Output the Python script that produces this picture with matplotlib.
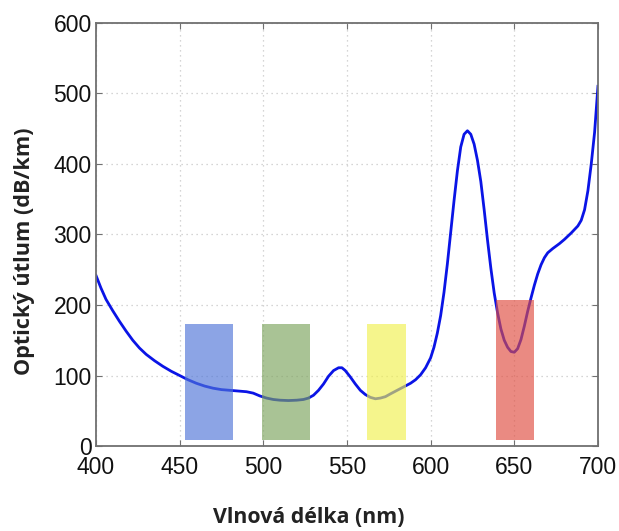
import matplotlib
matplotlib.use("Agg")
import matplotlib.pyplot as plt
from matplotlib.patches import Rectangle

# attenuation of PMMA fibre vs. wavelength
wavelength = [400, 403, 406, 410, 414, 418, 422, 426, 430, 435, 440, 445,
              450, 455, 460, 465, 470, 475, 480, 485, 490, 494, 498, 502,
              506, 510, 515, 520, 524, 527, 530, 533, 536, 539, 542, 545,
              547, 549, 552, 555, 558, 561, 564, 567, 570, 573, 576, 580,
              584, 588, 591, 594, 597, 600, 602, 604, 606, 608, 610, 612,
              614, 616, 618, 620, 622, 624, 626, 628, 630, 632, 634, 636,
              638, 640, 642, 644, 646, 648, 650, 652, 654, 656, 658, 660,
              662, 664, 666, 668, 670, 673, 677, 680, 684, 688, 690, 692,
              694, 696, 698, 700]
attenuation = [242, 224, 208, 192, 177, 163, 150, 139, 130, 121, 113, 106,
               100, 94, 89, 85, 82, 80, 79, 78, 77, 75, 71, 68,
               66, 65, 64.5, 65, 66, 68, 72, 79, 88, 99, 107, 111,
               111, 107, 98, 88, 79, 73, 69, 67, 68, 70, 74, 79,
               84, 89, 94, 101, 111, 125, 140, 160, 185, 218, 258, 303,
               348, 390, 424, 442, 447, 442, 428, 405, 375, 335, 292, 252,
               217, 189, 166, 150, 140, 134, 133, 138, 151, 170, 191, 210,
               228, 244, 257, 267, 274, 280, 287, 293, 302, 312, 320, 335,
               362, 400, 445, 510]

# LED emission bands: start, end, height
band_start = [453, 499, 562, 639]
band_end = [482, 528, 585, 662]
band_top = [173, 173, 173, 207]
band_bottom = 8
band_colors = ["#4e74d8", "#7ca35d", "#f0f04e", "#e04c3f"]

xticks = [400, 450, 500, 550, 600, 650, 700]
yticks = [0, 100, 200, 300, 400, 500, 600]

fig = plt.figure(figsize=(6.19, 5.31), dpi=100)
ax = fig.add_axes([0.155, 0.160, 0.811, 0.797])

ax.plot(wavelength, attenuation, color="#0a14e6", lw=2.0, zorder=2)

for x0, x1, top, c in zip(band_start, band_end, band_top, band_colors):
    ax.add_patch(Rectangle((x0, band_bottom), x1 - x0, top - band_bottom,
                           facecolor=c, edgecolor="none", alpha=0.65,
                           zorder=3))

ax.set_xlim(400, 700)
ax.set_ylim(0, 600)
ax.set_xticks(xticks)
ax.set_yticks(yticks)
ax.grid(True, color="#c8c8c8", linestyle=(0, (1, 3)), lw=0.9)
ax.set_axisbelow(True)

for s in ax.spines.values():
    s.set_color("#707070")
    s.set_linewidth(1.3)
ax.tick_params(direction="in", length=4, width=0.8, color="#707070",
               top=True, right=True, labelsize=16.5, pad=3)
ax.tick_params(axis="x", pad=7)
for lab in ax.get_xticklabels() + ax.get_yticklabels():
    lab.set_family("Liberation Sans")
    lab.set_color("#111111")

fig.text(0.498, 0.0245, "Vlnová délka (nm)", ha="center", va="center",
         family="Open Sans", weight="bold", fontsize=15.4, color="#222222")
fig.text(0.039, 0.527, "Optický útlum (dB/km)", ha="center", va="center",
         rotation=90, family="Open Sans", weight="bold", fontsize=15.6,
         color="#222222")

fig.savefig("out.png", dpi=100, facecolor="white")
